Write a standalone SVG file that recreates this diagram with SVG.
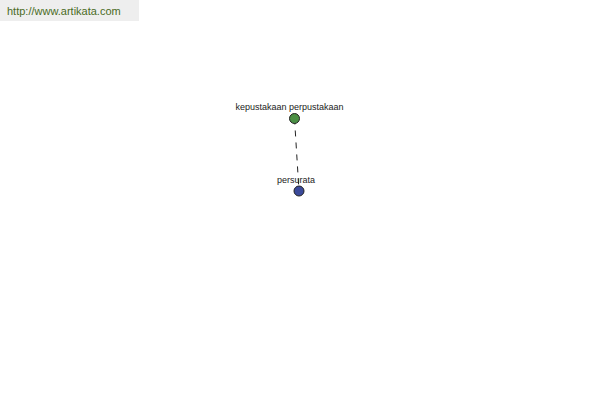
<svg xmlns="http://www.w3.org/2000/svg" width="600" height="400" viewBox="0 0 600 400">
<style>
.lbl{font-family:"Liberation Sans",Arial,sans-serif;font-size:9px;fill:#222;text-anchor:middle}
.node{stroke:#222;stroke-width:1}
</style>
<rect width="600" height="400" fill="#fff"/>
<g id="header">
<rect x="0" y="0" width="139" height="21" fill="#eeeeee"/>
<text x="7" y="15" font-family="'Liberation Sans',Arial,sans-serif" font-size="11" fill="#4a6b1e">http://www.artikata.com</text>
</g>
<g id="connectors">
<line x1="294.5" y1="118.5" x2="299" y2="191" stroke="#222" stroke-width="1" stroke-dasharray="6,6"/>
</g>
<g id="node1">
<circle class="node" cx="294.5" cy="118.5" r="5" fill="#4a8f45"/>
<text class="lbl" x="289.5" y="110">kepustakaan perpustakaan</text>
</g>
<g id="node2">
<circle class="node" cx="299" cy="191" r="5" fill="#3b4a9a"/>
<text class="lbl" x="296" y="183">persurata</text>
</g>
</svg>
